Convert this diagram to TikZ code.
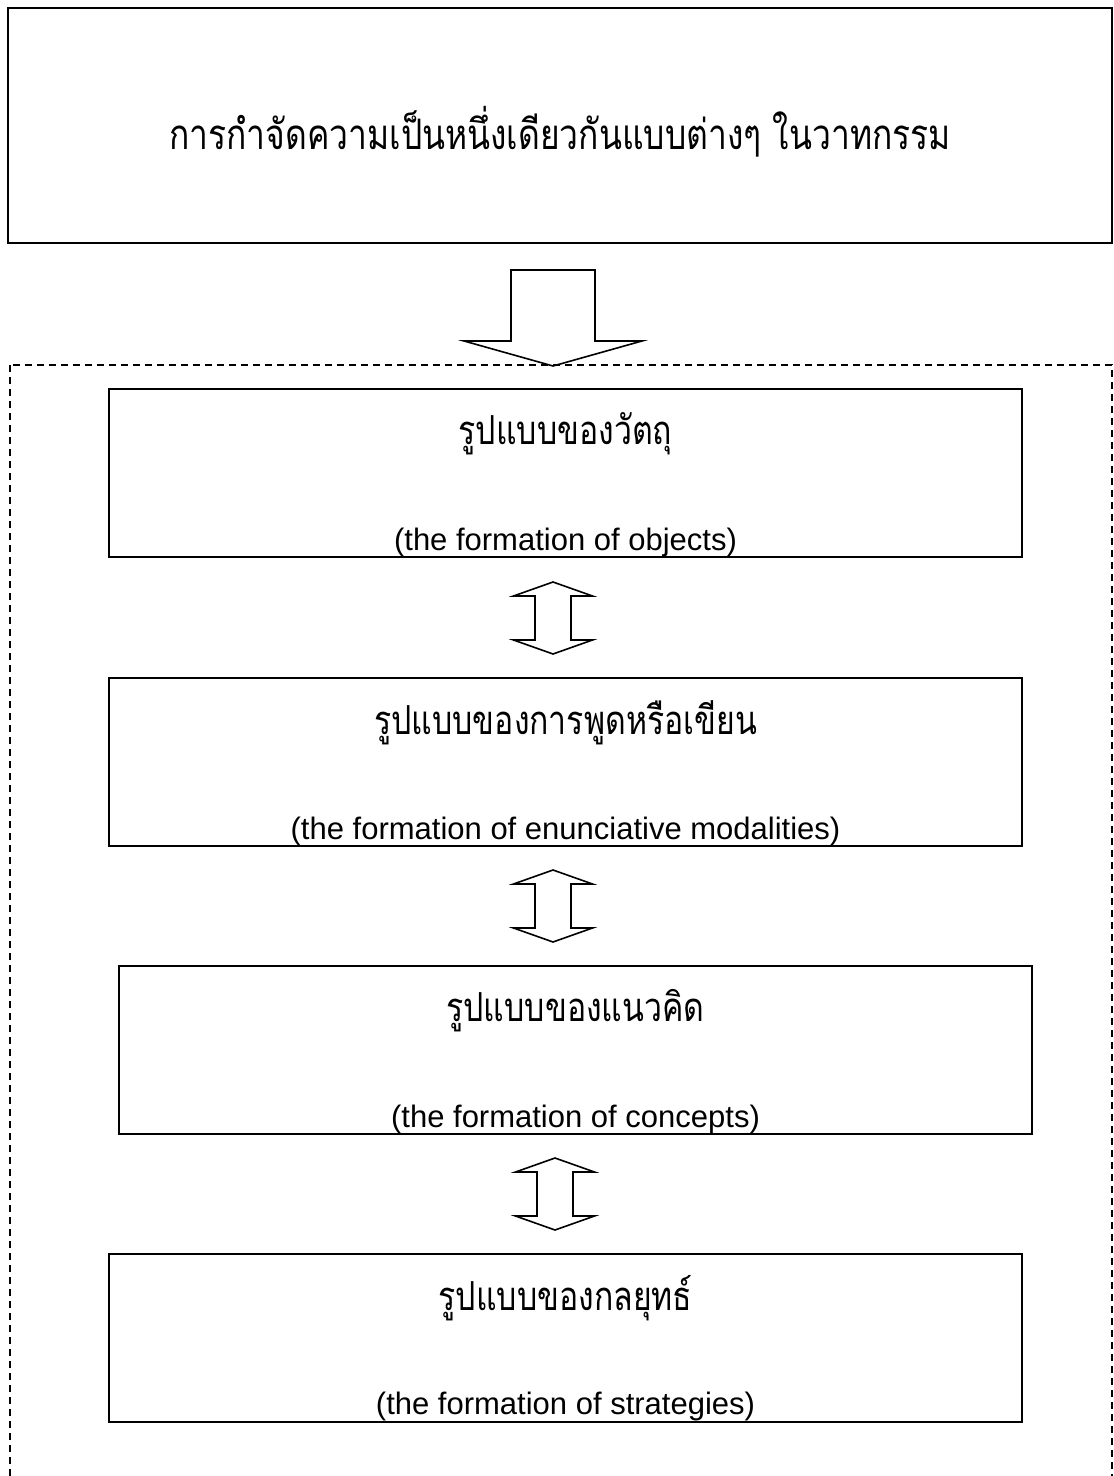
\documentclass[tikz,border=0pt]{standalone}
\usepackage{fontspec}
\setmainfont{Liberation Sans}
\newfontfamily\thaifont[Script=Thai,FakeStretch=0.8]{Loma}
\begin{document}
\begin{tikzpicture}[x=0.5pt,y=-0.5pt,
    frame/.style={draw,line width=1pt,inner sep=0pt},
    formbox/.style={frame,minimum width=456.5pt,minimum height=84pt},
    blockarrow/.style={draw,line width=0.8pt,line join=miter},
    thailabel/.style={font=\thaifont\fontsize{20}{24}\selectfont,inner sep=0pt},
    englabel/.style={font=\fontsize{15.5}{18}\selectfont,anchor=base,inner sep=0pt}]
    \clip (0,0) rectangle (1113,1476);
    %%% outer frames
    \node[frame,minimum width=552pt,minimum height=117.5pt] (title) at (560,125.5) {};
    \node[thailabel,font=\thaifont\fontsize{21}{25}\selectfont] (title-th) at ([yshift=-3pt]title.center)
      {การกำจัดความเป็นหนึ่งเดียวกันแบบต่างๆ ในวาทกรรม};
    \draw[line width=0.7pt,dash pattern=on 3.5pt off 2.5pt] (10,365) rectangle (1112,1500);
    %%% the four formations
    \node[formbox] (objects) at (565.5,473) {};
    \node[formbox] (modalities) at (565.5,762) {};
    \node[formbox] (concepts) at (575.5,1050) {};
    \node[formbox] (strategies) at (565.5,1337.5) {};
    \foreach \n/\th/\en in {objects/{รูปแบบของวัตถุ}/{the formation of objects},
        modalities/{รูปแบบของการพูดหรือเขียน}/{the formation of enunciative modalities},
        concepts/{รูปแบบของแนวคิด}/{the formation of concepts},
        strategies/{รูปแบบของกลยุทธ์}/{the formation of strategies}}{
      \node[thailabel] (\n-th) at ([yshift=-23pt]\n.north) {\th};
      \begin{scope}
        \clip ([yshift=1.25pt]\n.south west) rectangle (\n.north east);
        \node[englabel] (\n-en) at ([yshift=4pt]\n.south) {(\en)};
      \end{scope}
    }
    %%% arrows
    \draw[blockarrow] (511,270) -- (595,270) -- (595,341) -- (642,341) -- (553,366)
      -- (464,341) -- (511,341) -- cycle;
    \foreach \c/\t in {553/582, 553/870, 555/1158}
    \draw[blockarrow,shift={(\c,\t)}] (0,0) -- (39.5,14) -- (18,14) -- (18,58) -- (39.5,58)
      -- (0,72) -- (-39.5,58) -- (-18,58) -- (-18,14) -- (-39.5,14) -- cycle;
\end{tikzpicture}
\end{document}
